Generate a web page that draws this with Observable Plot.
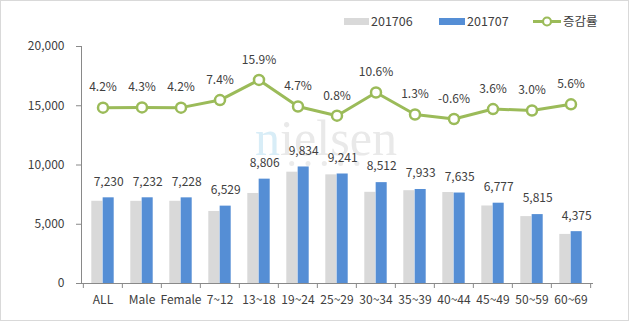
<!DOCTYPE html>
<html>
<head>
<meta charset="utf-8">
<script src="https://cdn.jsdelivr.net/npm/d3@7"></script>
<script src="https://cdn.jsdelivr.net/npm/@observablehq/plot@0.6"></script>
<style>
  html, body { margin: 0; padding: 0; background: #fff; }
  #wrap { position: relative; width: 630px; height: 322px; overflow: hidden; }
  #frame { position: absolute; left: 0; top: 0; width: 627px; height: 319px; border: 1.5px solid #d9d9d9; pointer-events: none; }
  svg { font-family: "Noto Sans CJK KR", "Noto Sans", sans-serif; }
</style>
</head>
<body>
<div id="wrap"><div id="frame"></div></div>
<script>
const categories = ["ALL","Male","Female","7~12","13~18","19~24","25~29","30~34","35~39","40~44","45~49","50~59","60~69"];
const v201706 = [6939, 6934, 6937, 6079, 7598, 9393, 9168, 7696, 7831, 7681, 6541, 5646, 4143];
const v201707 = [7230, 7232, 7228, 6529, 8806, 9834, 9241, 8512, 7933, 7635, 6777, 5815, 4375];
const rates = [4.2, 4.3, 4.2, 7.4, 15.9, 4.7, 0.8, 10.6, 1.3, -0.6, 3.6, 3.0, 5.6];
const yTicks = [0, 5000, 10000, 15000, 20000];
const seriesNames = ["201706", "201707", "증감률"];

const data = categories.map((c, i) => ({cat: c, a: v201706[i], b: v201707[i], rate: rates[i]}));

const W = 630, H = 322, mL = 81, mR = 38, mT = 46, mB = 39;
const bw = (W - mL - mR) / categories.length;
const barW = 11.35, outer = 8.3;
const gray = "#d9d9d9", blue = "#558ed5", green = "#9bbb59", axisC = "#898989", textC = "#404040";
const fs = 12;
// secondary axis (-70% .. 30%) mapped onto the primary y domain
const rateY = d => (d.rate + 70) * 200;

const chart = Plot.plot({
  width: W, height: H,
  marginTop: mT, marginBottom: mB, marginLeft: mL, marginRight: mR,
  style: {fontSize: fs + "px", color: textC, fontFamily: '"Noto Sans CJK KR", "Noto Sans", sans-serif'},
  x: {domain: categories, padding: 0, axis: null, label: null},
  y: {domain: [0, 20000], axis: null, label: null},
  marks: [
    Plot.barY(data, {x: "cat", y: "a", fill: gray, insetLeft: outer, insetRight: bw - outer - barW}),
    Plot.barY(data, {x: "cat", y: "b", fill: blue, insetLeft: bw - outer - barW, insetRight: outer}),
    Plot.frame({anchor: "left", stroke: axisC}),
    Plot.frame({anchor: "bottom", stroke: axisC}),
    Plot.axisY({ticks: yTicks, tickFormat: d3.format(","), tickSize: 5, tickPadding: 12, stroke: axisC, fill: textC, fontSize: fs, label: null}),
    Plot.ruleX(categories, {x: d => d, dx: -bw / 2, y1: 0, y2: 0, insetBottom: -5, stroke: axisC}),
    Plot.ruleX(categories.slice(-1), {x: d => d, dx: bw / 2, y1: 0, y2: 0, insetBottom: -5, stroke: axisC}),
    Plot.axisX({tickSize: 0, tickPadding: 12, fill: textC, fontSize: fs, label: null}),
    Plot.line(data, {x: "cat", y: rateY, stroke: green, strokeWidth: 3}),
    Plot.dot(data, {x: "cat", y: rateY, r: 5, fill: "white", stroke: green, strokeWidth: 2.5}),
    Plot.text(data, {x: "cat", y: rateY, text: d => d.rate.toFixed(1) + "%", dy: -20, fill: textC, fontSize: fs}),
    Plot.text(data, {x: "cat", y: "b", text: d => d3.format(",")(d.b), dx: (bw - outer - barW) - bw / 2 + barW / 2, dy: -16, fill: textC, fontSize: fs})
  ]
});

// watermark + legend decorations
const svg = d3.select(chart);
const wm = svg.insert("g", ":first-child").attr("pointer-events", "none").attr("text-anchor", "start");
const t = wm.append("text").attr("x", 255).attr("y", 155)
  .style("font-family", '"Liberation Serif", serif').style("font-size", "50px");
t.append("tspan").attr("fill", "#d8edf7").text("n");
t.append("tspan").attr("fill", "#e9e9e9").text("ielsen");
[0,1,2,3,4].forEach(k => wm.append("circle").attr("cx", 291.7 + k * 16.3).attr("cy", 163.5).attr("r", 2.5).attr("fill", "#ebebeb"));

const lg = svg.append("g").attr("text-anchor", "start").style("font-size", "12.5px").attr("fill", textC);
lg.append("rect").attr("x", 344).attr("y", 18).attr("width", 25).attr("height", 7).attr("fill", gray);
lg.append("text").attr("x", 371).attr("y", 21.5).attr("dy", "0.35em").text(seriesNames[0]);
lg.append("rect").attr("x", 439).attr("y", 18).attr("width", 26).attr("height", 7).attr("fill", blue);
lg.append("text").attr("x", 467).attr("y", 21.5).attr("dy", "0.35em").text(seriesNames[1]);
lg.append("line").attr("x1", 533).attr("x2", 561).attr("y1", 21.5).attr("y2", 21.5).attr("stroke", green).attr("stroke-width", 3);
lg.append("circle").attr("cx", 547).attr("cy", 21.5).attr("r", 4).attr("fill", "white").attr("stroke", green).attr("stroke-width", 2.2);
lg.append("text").attr("x", 563).attr("y", 21.5).attr("dy", "0.35em").text(seriesNames[2]);

document.getElementById("wrap").prepend(chart);
// fit watermark width to ~142px
const len = t.node().getComputedTextLength();
if (len > 0) t.style("font-size", (50 * 142 / len) + "px");
</script>
</body>
</html>
